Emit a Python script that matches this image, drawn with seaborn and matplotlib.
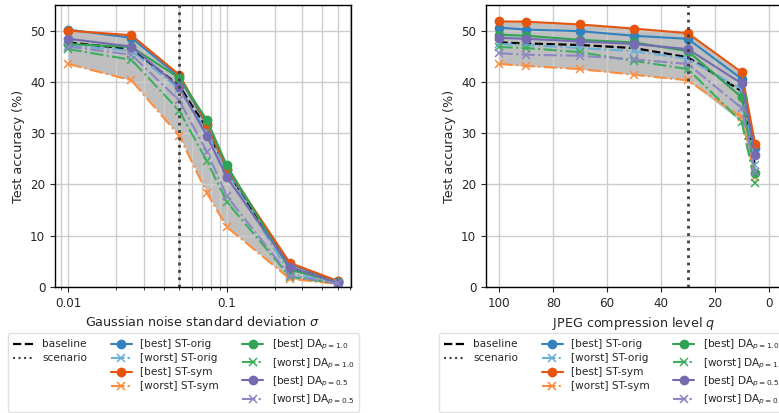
import numpy as np
import matplotlib
matplotlib.use("Agg")
import matplotlib.pyplot as plt
from matplotlib.lines import Line2D
from matplotlib.ticker import NullFormatter
import seaborn as sns

# ---------------- data ----------------
sigma = [0.01, 0.025, 0.05, 0.075, 0.1, 0.25, 0.5]
noise_baseline = [47.7, 46.4, 39.3, 30.8, 22.7, 3.8, 0.9]
noise_st_orig_best = [50.2, 48.6, 41.0, 31.5, 22.9, 4.5, 1.1]
noise_st_orig_worst = [47.1, 46.1, 38.6, 30.2, 22.4, 2.6, 0.8]
noise_st_sym_best = [50.0, 49.1, 41.4, 31.8, 23.1, 4.7, 1.2]
noise_st_sym_worst = [43.5, 40.3, 29.5, 18.3, 11.7, 1.6, 0.6]
noise_da10_best = [47.4, 46.8, 40.8, 32.5, 23.7, 3.4, 0.9]
noise_da10_worst = [46.4, 44.3, 34.4, 24.5, 16.6, 2.0, 0.7]
noise_da05_best = [48.4, 46.9, 39.0, 29.4, 21.4, 3.9, 0.8]
noise_da05_worst = [46.9, 45.3, 36.4, 26.3, 17.7, 2.2, 0.7]
noise_scenario = 0.05

quality = [100, 90, 70, 50, 30, 10, 5]
jpeg_baseline = [47.7, 47.5, 47.2, 46.6, 44.8, 38.2, 23.4]
jpeg_st_orig_best = [50.6, 50.2, 49.9, 49.0, 48.4, 40.6, 27.2]
jpeg_st_orig_worst = [47.4, 47.2, 46.6, 46.0, 44.5, 38.6, 23.8]
jpeg_st_sym_best = [51.8, 51.75, 51.2, 50.4, 49.5, 41.9, 27.9]
jpeg_st_sym_worst = [43.5, 43.1, 42.5, 41.4, 40.3, 33.1, 21.4]
jpeg_da10_best = [49.2, 49.0, 48.2, 47.7, 46.0, 37.0, 22.2]
jpeg_da10_worst = [46.8, 46.6, 45.8, 44.1, 42.5, 32.2, 20.2]
jpeg_da05_best = [48.6, 48.4, 47.9, 47.4, 46.4, 39.7, 25.8]
jpeg_da05_worst = [45.6, 45.3, 45.1, 44.4, 43.5, 34.9, 22.4]
jpeg_scenario = 30

# ---------------- style ----------------
sns.set_style("ticks")
plt.rcParams["font.family"] = ["DejaVu Sans"]
plt.rcParams["mathtext.fontset"] = "dejavusans"

COL = {
    "st_orig_best": "#3182bd", "st_orig_worst": "#6baed6",
    "st_sym_best": "#e6550d", "st_sym_worst": "#fd8d3c",
    "da10_best": "#31a354", "da10_worst": "#3cae5e",
    "da05_best": "#756bb1", "da05_worst": "#8c86c2",
}
LABELS = {
    "st_orig_best": "[best] ST-orig", "st_orig_worst": "[worst] ST-orig",
    "st_sym_best": "[best] ST-sym", "st_sym_worst": "[worst] ST-sym",
    "da10_best": "[best] DA$_{p=1.0}$", "da10_worst": "[worst] DA$_{p=1.0}$",
    "da05_best": "[best] DA$_{p=0.5}$", "da05_worst": "[worst] DA$_{p=0.5}$",
}
ORDER = ["st_orig_best", "st_orig_worst", "st_sym_best", "st_sym_worst",
         "da10_best", "da10_worst", "da05_best", "da05_worst"]

def style_for(key):
    c = COL[key]
    if key.endswith("best"):
        return dict(linestyle="-", marker="o", markersize=6, linewidth=1.5,
                    markeredgecolor=c, markerfacecolor=c, markeredgewidth=1.0)
    return dict(linestyle="-.", marker="x", markersize=6, linewidth=1.5,
                markeredgecolor=c, markeredgewidth=1.1)

W, H = 779, 413
fig = plt.figure(figsize=(W / 100, H / 100), dpi=100)
axL = fig.add_axes([55 / W, 126 / H, 296 / W, 282 / H])
axR = fig.add_axes([486 / W, 126 / H, 296 / W, 282 / H])

def draw(ax, x, baseline, series, scenario):
    allv = np.array([baseline] + [series[k] for k in ORDER])
    ax.fill_between(x, allv.min(axis=0), allv.max(axis=0), color="gray",
                    alpha=0.5, linewidth=0, zorder=1)
    sns.lineplot(x=x, y=baseline, ax=ax, color="black", linestyle="--",
                 linewidth=1.6, zorder=2.2, sort=False)
    for k in ORDER:
        sns.lineplot(x=x, y=series[k], ax=ax, color=COL[k], zorder=2.5,
                     sort=False, **style_for(k))
    ax.axvline(scenario, color="0.25", linestyle=":", linewidth=2, zorder=3)
    ax.set_ylim(0, 55)
    ax.set_yticks([0, 10, 20, 30, 40, 50])
    ax.set_axisbelow("line")
    ax.grid(True, which="major", color="0.8", linewidth=1.0)
    ax.set_ylabel("Test accuracy (%)", fontsize=9.2)
    ax.tick_params(labelsize=8.6)
    for s in ax.spines.values():
        s.set_color("black")
        s.set_linewidth(1.0)

series_noise = dict(st_orig_best=noise_st_orig_best, st_orig_worst=noise_st_orig_worst,
                    st_sym_best=noise_st_sym_best, st_sym_worst=noise_st_sym_worst,
                    da10_best=noise_da10_best, da10_worst=noise_da10_worst,
                    da05_best=noise_da05_best, da05_worst=noise_da05_worst)
series_jpeg = dict(st_orig_best=jpeg_st_orig_best, st_orig_worst=jpeg_st_orig_worst,
                   st_sym_best=jpeg_st_sym_best, st_sym_worst=jpeg_st_sym_worst,
                   da10_best=jpeg_da10_best, da10_worst=jpeg_da10_worst,
                   da05_best=jpeg_da05_best, da05_worst=jpeg_da05_worst)

axL.set_xscale("log")
draw(axL, sigma, noise_baseline, series_noise, noise_scenario)
axL.set_xticks([0.01, 0.1])
axL.set_xticklabels(["0.01", "0.1"])
axL.xaxis.set_minor_formatter(NullFormatter())
axL.xaxis.grid(True, which="minor", color="0.8", linewidth=1.0)
axL.set_xlabel("Gaussian noise standard deviation $\\sigma$", fontsize=9.2)

draw(axR, quality, jpeg_baseline, series_jpeg, jpeg_scenario)
axR.set_xlim(105, -5)
axR.set_xticks([100, 80, 60, 40, 20, 0])
axR.set_xlabel("JPEG compression level $q$", fontsize=9.2)

def legend_handles():
    hs = [Line2D([], [], color="black", linestyle="--", linewidth=1.6),
          Line2D([], [], color="0.25", linestyle=":", linewidth=1.5),
          Line2D([], [], linestyle="none"), Line2D([], [], linestyle="none")]
    ls = ["baseline", "scenario", "", ""]
    for k in ORDER:
        hs.append(Line2D([], [], color=COL[k], **style_for(k)))
        ls.append(LABELS[k])
    return hs, ls

for ax in (axL, axR):
    hs, ls = legend_handles()
    ax.legend(hs, ls, ncol=3, loc="upper left", bbox_to_anchor=(-47 / 296, -0.163),
              borderaxespad=0, fontsize=7.6, frameon=True, labelspacing=0.38,
              columnspacing=2.2, handletextpad=0.8, borderpad=0.45, fancybox=True,
              edgecolor="0.85")

fig.savefig("out.png", dpi=100)
